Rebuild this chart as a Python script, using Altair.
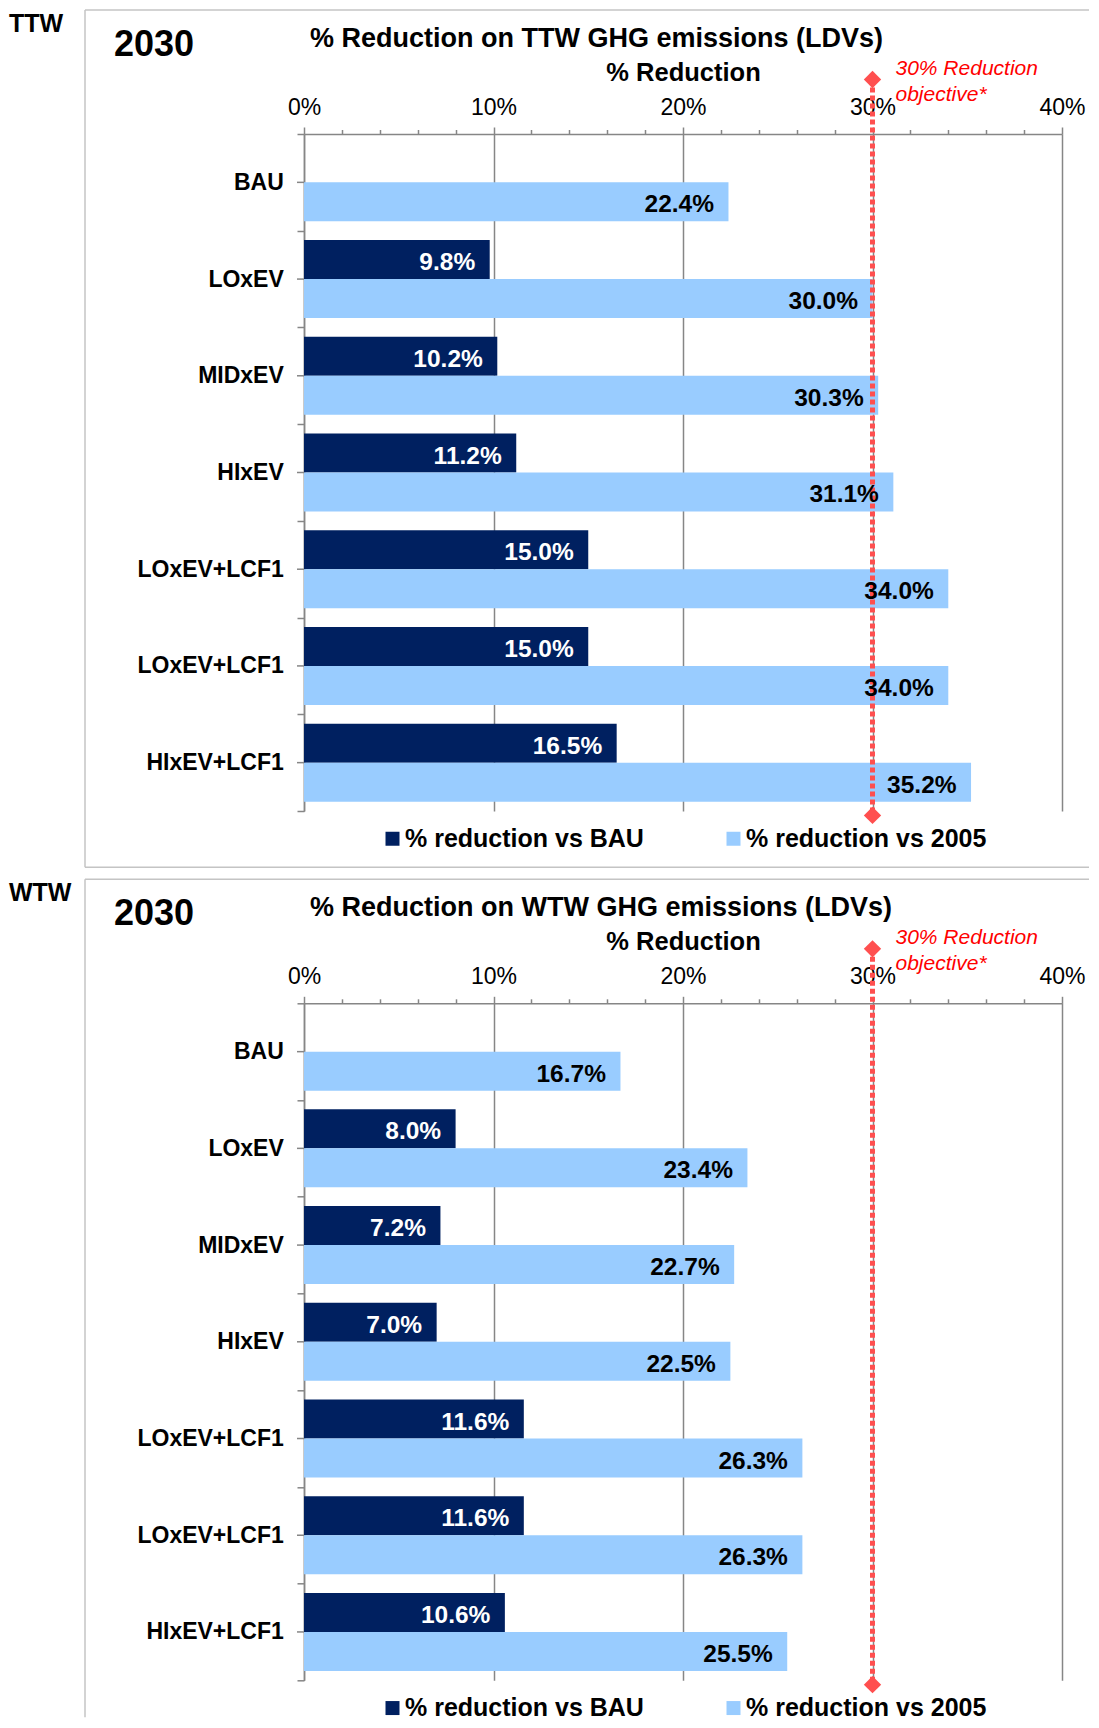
import json
import altair as alt
import pandas as pd

# ---------------- data ----------------
categories = ["BAU", "LOxEV", "MIDxEV", "HIxEV", "LOxEV+LCF1", "LOxEV+LCF1", "HIxEV+LCF1"]
series_names = ["% reduction vs BAU", "% reduction vs 2005"]
ttw_vs_bau = [None, 9.8, 10.2, 11.2, 15.0, 15.0, 16.5]
ttw_vs_2005 = [22.4, 30.0, 30.3, 31.1, 34.0, 34.0, 35.2]
wtw_vs_bau = [None, 8.0, 7.2, 7.0, 11.6, 11.6, 10.6]
wtw_vs_2005 = [16.7, 23.4, 22.7, 22.5, 26.3, 26.3, 25.5]
panel_tags = ["TTW", "WTW"]
panel_titles = ["% Reduction on TTW GHG emissions (LDVs)",
                "% Reduction on WTW GHG emissions (LDVs)"]
year_label = "2030"
axis_title = "% Reduction"
objective_value = 30
objective_label = "30% Reduction\nobjective*"
x_domain = [0, 40]

# ---------------- style ----------------
FONT = "Liberation Sans"
W, H = 758, 677
GRAY = "#868686"
BORDER = "#c4c4c4"
NAVY = "#002060"
LIGHT = "#99ccff"
RED_TXT = "#ff0000"
RED_LINE = "#ff4f4f"

X = alt.X(
    "value:Q",
    scale=alt.Scale(domain=x_domain, nice=False, zero=True),
    axis=alt.Axis(
        orient="top", tickCount=20,
        labelExpr="datum.value % 10 === 0 ? datum.value + '%' : ''",
        labelFlush=False, labelOverlap=False, labelFont=FONT, labelFontSize=23,
        labelColor="black", labelBaseline="alphabetic", labelPadding=12.4,
        tickSize={"condition": {"test": "datum.value % 10 === 0", "value": 7}, "value": 4.5},
        tickColor=GRAY, tickWidth=1.5,
        grid=True, gridColor=GRAY, gridWidth=1.5,
        gridOpacity={"condition": {"test": "datum.value % 10 === 0", "value": 1}, "value": 0},
        domainColor=GRAY, domainWidth=1.5,
        title=axis_title, titleFont=FONT, titleFontSize=25.5, titleFontWeight="bold",
        titleColor="black", titleX=W / 2, titleY=-53.5, titleBaseline="alphabetic",
        titleAlign="center",
    ),
)

Y = alt.Y(
    "idx:O",
    scale=alt.Scale(paddingInner=0, paddingOuter=0),
    axis=alt.Axis(
        title=None, labelExpr=f"{json.dumps(categories)}[datum.value]",
        labelFont=FONT, labelFontSize=23, labelFontWeight="bold", labelColor="black",
        labelPadding=13.7, labelAngle=0, labelLimit=0, tickBand="extent", tickSize=7,
        tickColor=GRAY, tickWidth=1.5, domainColor=GRAY, domainWidth=1.5, grid=False,
    ),
)

YO = alt.YOffset(
    "series:N", sort=series_names,
    scale=alt.Scale(domain=series_names, paddingInner=0, paddingOuter=0.24),
)


def panel(tag, title, vs_bau, vs_2005, first):
    rows = []
    for i in range(len(categories)):
        for s, vals in zip(series_names, (vs_bau, vs_2005)):
            v = vals[i]
            if v is None:
                continue
            rows.append({"idx": i, "series": s, "value": v, "label": f"{v:.1f}%"})
    df = pd.DataFrame(rows)
    cat_df = pd.DataFrame({"idx": list(range(len(categories)))})
    tgt = pd.DataFrame({"value": [objective_value], "t": [objective_label]})
    meta = pd.DataFrame({"tag": [tag], "year": [year_label], "title": [title]})
    one = pd.DataFrame({"k": [0]})

    bars = alt.Chart(df).mark_bar().encode(
        x=X, y=Y, yOffset=YO,
        color=alt.Color(
            "series:N",
            scale=alt.Scale(domain=series_names, range=[NAVY, LIGHT]),
            legend=alt.Legend(
                orient="none", legendX=76, legendY=692, direction="horizontal",
                title=None, symbolType="square", symbolSize=196, symbolStrokeWidth=0,
                labelFont=FONT, labelFontSize=25, labelFontWeight="bold",
                labelColor="black", labelOffset=0, columnPadding=77, padding=0,
                labelLimit=0,
            ),
        ),
    )

    center_ticks = alt.Chart(cat_df).mark_rule(color=GRAY, strokeWidth=1.5).encode(
        y=Y, x=alt.value(-7), x2=alt.value(0)
    )

    lab_dark = alt.Chart(df).transform_filter(
        alt.datum.series == series_names[0]
    ).mark_text(
        align="right", baseline="alphabetic", dx=-14.5, dy=10.5,
        font=FONT, fontSize=24.5, fontWeight="bold", color="white",
    ).encode(x=X, y=Y, yOffset=YO, text="label:N")

    lab_light = alt.Chart(df).transform_filter(
        alt.datum.series == series_names[1]
    ).mark_text(
        align="right", baseline="alphabetic", dx=-14.5, dy=10.5,
        font=FONT, fontSize=24.5, fontWeight="bold", color="black",
    ).encode(x=X, y=Y, yOffset=YO, text="label:N")

    line = alt.Chart(tgt).mark_rule(
        color=RED_LINE, strokeWidth=5, strokeDash=[5, 3]
    ).encode(x=X, y=alt.value(-54.5), y2=alt.value(H + 4.4))
    dia_top = alt.Chart(tgt).mark_point(
        shape="diamond", filled=True, size=300, color=RED_LINE, opacity=1
    ).encode(x=X, y=alt.value(-54.5))
    dia_bot = alt.Chart(tgt).mark_point(
        shape="diamond", filled=True, size=300, color=RED_LINE, opacity=1
    ).encode(x=X, y=alt.value(H + 4.4))
    obj_txt = alt.Chart(tgt).mark_text(
        align="left", baseline="alphabetic", dx=23, font=FONT, fontSize=21,
        fontStyle="italic", color=RED_TXT, lineBreak="\n", lineHeight=25.5,
    ).encode(x=X, y=alt.value(-59), text="t:N")

    tag_t = alt.Chart(meta).mark_text(
        align="left", baseline="alphabetic", font=FONT, fontSize=25,
        fontWeight="bold", color="black",
    ).encode(x=alt.value(-295), y=alt.value(-102), text="tag:N")
    year_t = alt.Chart(meta).mark_text(
        align="left", baseline="alphabetic", font=FONT, fontSize=36,
        fontWeight="bold", color="black",
    ).encode(x=alt.value(-190), y=alt.value(-78), text="year:N")
    title_t = alt.Chart(meta).mark_text(
        align="left", baseline="alphabetic", font=FONT, fontSize=27,
        fontWeight="bold", color="black",
    ).encode(x=alt.value(6), y=alt.value(-87.5), text="title:N")

    b_top = alt.Chart(one).mark_rule(color=BORDER, strokeWidth=1.5).encode(
        x=alt.value(-219), x2=alt.value(785), y=alt.value(-124)
    )
    b_left = alt.Chart(one).mark_rule(color=BORDER, strokeWidth=1.5).encode(
        x=alt.value(-219), y=alt.value(-124), y2=alt.value(733.3 if first else 714)
    )
    layers = [b_top, b_left]
    if first:
        b_bot = alt.Chart(one).mark_rule(color=BORDER, strokeWidth=1.5).encode(
            x=alt.value(-219), x2=alt.value(785), y=alt.value(733.3)
        )
        anchor = alt.Chart(one).mark_rect(opacity=0).encode(
            x=alt.value(-296), x2=alt.value(-295), y=alt.value(-126), y2=alt.value(-125)
        )
        layers += [b_bot, anchor]
    layers += [bars, center_ticks, line, dia_top, dia_bot, lab_dark, lab_light,
               obj_txt, tag_t, year_t, title_t]
    return alt.layer(*layers).properties(width=W, height=H)


p1 = panel(panel_tags[0], panel_titles[0], ttw_vs_bau, ttw_vs_2005, True)
p2 = panel(panel_tags[1], panel_titles[1], wtw_vs_bau, wtw_vs_2005, False)

chart = alt.vconcat(p1, p2, spacing=192.3, bounds="flush").resolve_scale(
    x="independent", y="independent", color="independent"
).properties(
    padding={"left": 0, "top": 0, "right": 0, "bottom": 0},
    background="white",
).configure_view(stroke=None)

chart.save("out.html", embed_options={"renderer": "svg", "actions": False})
